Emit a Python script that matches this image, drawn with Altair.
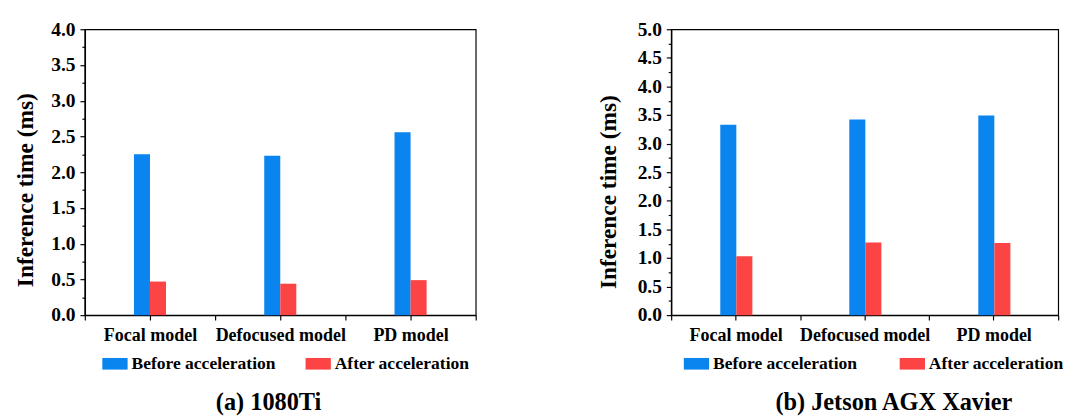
import altair as alt
import pandas as pd

FONT = "Liberation Serif"

models = ["Focal model", "Defocused model", "PD model"]
series = ["Before acceleration", "After acceleration"]
colors = ["#0a84ee", "#fd4444"]

before_1080 = [2.25, 2.23, 2.56]
after_1080 = [0.47, 0.44, 0.49]
before_jetson = [3.33, 3.42, 3.49]
after_jetson = [1.03, 1.27, 1.26]

yticks_1080 = [0, 0.25, 0.5, 0.75, 1, 1.25, 1.5, 1.75, 2, 2.25, 2.5, 2.75, 3, 3.25, 3.5, 3.75, 4]
yticks_jetson = [0, 0.25, 0.5, 0.75, 1, 1.25, 1.5, 1.75, 2, 2.25, 2.5, 2.75, 3, 3.25, 3.5, 3.75,
                 4, 4.25, 4.5, 4.75, 5]

BAR_W = 16.5


def panel(before, after, ymax, yticks, width, caption, title_pad, title_y, legend_x, col_pad, cap_dx):
    df = pd.DataFrame({
        "model": models * 2,
        "series": [series[0]] * 3 + [series[1]] * 3,
        "value": before + after,
    })
    band = width / 3
    xscale = alt.Scale(domain=models, paddingInner=0, paddingOuter=0)
    bars = alt.Chart(df).mark_bar(strokeWidth=0).encode(
        x=alt.X("model:N", sort=models, scale=xscale,
                axis=alt.Axis(title=None, orient="bottom", tickBand="extent", labelAngle=0,
                              grid=False,
                              labelFont=FONT, labelFontSize=18.5, labelFontWeight="bold",
                              labelColor="black", labelPadding=6, tickSize=5, tickColor="black",
                              tickWidth=1.2, domainColor="black", domainWidth=1.5)),
        xOffset=alt.XOffset("series:N", sort=series,
                            scale=alt.Scale(domain=series, paddingInner=0, paddingOuter=0,
                                            range=[band / 2 - BAR_W, band / 2 + BAR_W])),
        y=alt.Y("value:Q", scale=alt.Scale(domain=[0, ymax], nice=False, zero=True),
                axis=alt.Axis(title="Inference time (ms)", values=yticks, grid=False,
                              labelExpr="datum.value % 0.5 == 0 ? format(datum.value, '.1f') : ''",
                              tickSize={"condition": {"test": "datum.value % 0.5 != 0", "value": 3},
                                        "value": 5},
                              tickColor="black", tickWidth=1.2, domainColor="black", domainWidth=1.5,
                              labelFont=FONT, labelFontSize=20, labelFontWeight="bold",
                              labelColor="black", labelPadding=5,
                              titleFont=FONT, titleFontSize=24, titleFontWeight="bold",
                              titleColor="black", titlePadding=title_pad, titleY=title_y)),
        color=alt.Color("series:N", sort=series,
                        scale=alt.Scale(domain=series, range=colors),
                        legend=alt.Legend(title=None, orient="none", legendX=legend_x, legendY=331,
                                          direction="horizontal", symbolType="M-1,-0.46H1V0.46H-1Z",
                                          symbolSize=676, symbolStrokeWidth=0, symbolOpacity=1,
                                          labelFont=FONT, labelFontSize=18, labelFontWeight="bold",
                                          labelColor="black", labelOffset=4, columnPadding=col_pad,
                                          labelLimit=300)),
    )
    centers = alt.Chart(df).mark_point(opacity=0).encode(
        x=alt.X("model:N", sort=models, scale=xscale,
                axis=alt.Axis(title=None, orient="bottom", labels=False, domain=False, grid=False,
                              tickSize=5, tickColor="black", tickWidth=1.2)),
    )
    return alt.layer(bars, centers).resolve_axis(x="independent").properties(
        width=width, height=294,
        title=alt.TitleParams(caption, orient="bottom", font=FONT, fontSize=25, fontWeight="bold",
                              color="black", offset=19, frame="group", dx=cap_dx),
    )


left = panel(before_1080, after_1080, 4, yticks_1080, 402, "(a) 1080Ti", 14, 165, 18, 30, -12)
right = panel(before_jetson, after_jetson, 5, yticks_jetson, 398, "(b) Jetson AGX Xavier",
              17, 167, 13, 43, 30)

chart = alt.hconcat(left, right, spacing=122).resolve_scale(color="independent").resolve_legend(
    color="independent"
).configure(
    padding={"left": 5, "top": 5, "right": 0, "bottom": 0},
).configure_view(stroke="black", strokeWidth=1.2)

chart.save("out.html", embed_options={"renderer": "svg", "actions": False})
